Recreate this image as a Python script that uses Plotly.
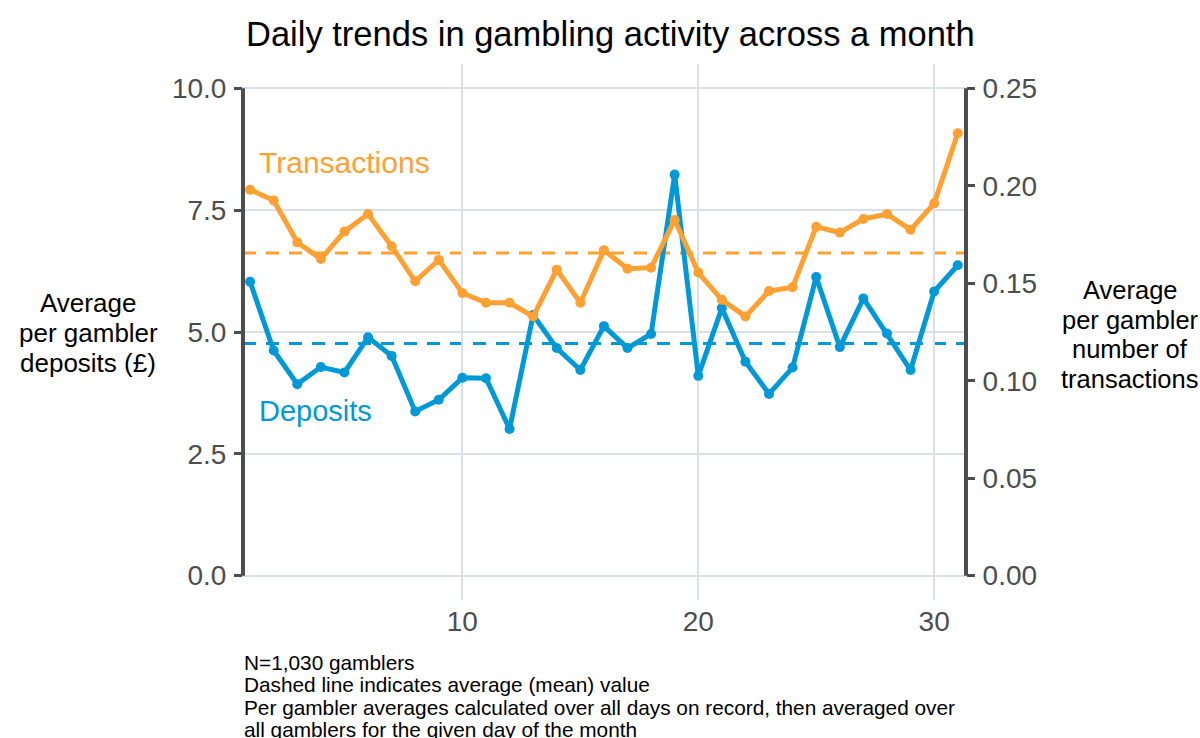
import plotly.graph_objects as go

# ---- data ----
days = list(range(1, 32))
deposits = [6.03, 4.62, 3.93, 4.28, 4.17, 4.89, 4.51, 3.37, 3.61, 4.06,
            4.05, 3.01, 5.35, 4.67, 4.22, 5.12, 4.67, 4.96, 8.23, 4.10,
            5.49, 4.39, 3.73, 4.27, 6.13, 4.69, 5.69, 4.97, 4.22, 5.83, 6.37]
transactions = [0.198, 0.1925, 0.171, 0.1625, 0.1765, 0.1855, 0.169, 0.151, 0.162, 0.145,
                0.140, 0.140, 0.133, 0.157, 0.140, 0.167, 0.1575, 0.158, 0.1825, 0.1555,
                0.1415, 0.133, 0.146, 0.148, 0.179, 0.176, 0.183, 0.1855, 0.1775, 0.191, 0.227]
left_ticks = [0, 2.5, 5, 7.5, 10]
left_tick_text = ["0.0", "2.5", "5.0", "7.5", "10.0"]
right_ticks = [0, 0.05, 0.10, 0.15, 0.20, 0.25]
right_tick_text = ["0.00", "0.05", "0.10", "0.15", "0.20", "0.25"]
x_ticks = [10, 20, 30]

title = "Daily trends in gambling activity across a month"
left_title = ["Average", "per gambler", "deposits (£)"]
right_title = ["Average", "per gambler", "number of", "transactions"]
caption = ["N=1,030 gamblers",
           "Dashed line indicates average (mean) value",
           "Per gambler averages calculated over all days on record, then averaged over",
           "all gamblers for the given day of the month"]

mean_dep = sum(deposits) / len(deposits)
mean_tr = sum(transactions) / len(transactions)

ORANGE = "#FFA033"
BLUE = "#0099D8"
AXIS = "#4D4D4F"
GRID = "#D9E0E8"
TICKTXT = "#4D4D4D"
FONT = "Liberation Sans, Arial, sans-serif"

W, H = 1200, 738
L, R, T, B = 243, 966, 64, 600  # plot area in page pixels


def px(x):
    return (x - L) / (R - L)


def py(y):
    return (B - y) / (B - T)


fig = go.Figure()

fig.add_trace(go.Scatter(x=days, y=transactions, yaxis="y2", mode="lines+markers",
                         line=dict(color=ORANGE, width=5),
                         marker=dict(color=ORANGE, size=10), showlegend=False,
                         name="Transactions"))
fig.add_trace(go.Scatter(x=days, y=deposits, mode="lines+markers",
                         line=dict(color=BLUE, width=5),
                         marker=dict(color=BLUE, size=10), showlegend=False,
                         name="Deposits"))

shapes = []
# mean lines
shapes.append(dict(type="line", xref="paper", x0=0, x1=1, yref="y2", y0=mean_tr, y1=mean_tr,
                   line=dict(color=ORANGE, width=3, dash="13px,10px"), layer="below"))
shapes.append(dict(type="line", xref="paper", x0=0, x1=1, yref="y", y0=mean_dep, y1=mean_dep,
                   line=dict(color=BLUE, width=3, dash="13px,10px"), layer="below"))
# axis lines
shapes.append(dict(type="line", xref="paper", x0=0, x1=0, yref="y", y0=0, y1=10,
                   line=dict(color=AXIS, width=4), layer="above"))
shapes.append(dict(type="line", xref="paper", x0=1, x1=1, yref="y", y0=0, y1=10,
                   line=dict(color=AXIS, width=4), layer="above"))

annotations = []
annotations.append(dict(text="Transactions", x=1.30, xref="x", y=8.48, yref="y",
                        xanchor="left", yanchor="middle", showarrow=False,
                        font=dict(family=FONT, size=30, color=ORANGE)))
annotations.append(dict(text="Deposits", x=1.30, xref="x", y=3.38, yref="y",
                        xanchor="left", yanchor="middle", showarrow=False,
                        font=dict(family=FONT, size=29, color=BLUE)))
for i, t in enumerate(left_title):
    annotations.append(dict(text=t, x=px(88), xref="paper", y=py(303 + 30 * i), yref="paper",
                            xanchor="center", yanchor="middle", showarrow=False,
                            font=dict(family=FONT, size=26, color="#000000")))
for i, t in enumerate(right_title):
    annotations.append(dict(text=t, x=px(1130), xref="paper", y=py(290 + 29.5 * i), yref="paper",
                            xanchor="center", yanchor="middle", showarrow=False,
                            font=dict(family=FONT, size=25.5, color="#000000")))
for i, t in enumerate(caption):
    annotations.append(dict(text=t, x=px(242), xref="paper", y=py(662 + 22.5 * i), yref="paper",
                            xanchor="left", yanchor="middle", showarrow=False,
                            font=dict(family=FONT, size=20.8, color="#000000")))
annotations.append(dict(text=title, x=px(610), xref="paper", y=py(34), yref="paper",
                        xanchor="center", yanchor="middle", showarrow=False,
                        font=dict(family=FONT, size=34.5, color="#000000")))

fig.update_layout(
    width=W, height=H,
    margin=dict(l=L, r=W - R, t=T, b=H - B, pad=0),
    paper_bgcolor="white", plot_bgcolor="white",
    font=dict(family=FONT),
    xaxis=dict(range=[0.7, 31.35], tickvals=x_ticks, ticktext=[str(v) for v in x_ticks],
               showgrid=True, gridcolor=GRID, gridwidth=2, zeroline=False, showline=False,
               ticks="", tickfont=dict(family=FONT, size=28, color=TICKTXT),
               ticklabelstandoff=2),
    yaxis=dict(range=[-0.5, 10.5], tickvals=left_ticks, ticktext=left_tick_text,
               showgrid=True, gridcolor=GRID, gridwidth=2, zeroline=False, showline=False,
               ticks="outside", ticklen=8, tickwidth=3, tickcolor=AXIS,
               tickfont=dict(family=FONT, size=28, color=TICKTXT), ticklabelstandoff=2),
    yaxis2=dict(range=[-0.0125, 0.2625], tickvals=right_ticks, ticktext=right_tick_text,
                overlaying="y", side="right", showgrid=False, zeroline=False, showline=False,
                ticks="outside", ticklen=8, tickwidth=3, tickcolor=AXIS,
                tickfont=dict(family=FONT, size=28, color=TICKTXT), ticklabelstandoff=2),
    shapes=shapes,
    annotations=annotations,
    showlegend=False,
)

fig.write_html(
    "out.html",
    config={"displayModeBar": False},
    post_script="document.body.style.margin='0';document.body.style.overflow='hidden';",
)
